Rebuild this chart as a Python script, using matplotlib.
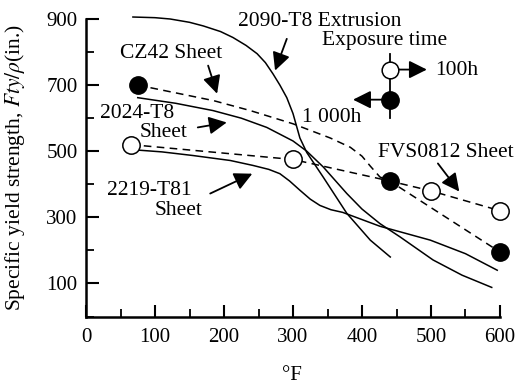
import matplotlib
matplotlib.use("Agg")
import matplotlib.pyplot as plt
from matplotlib.ticker import MultipleLocator

plt.rcParams['font.family'] = ['Liberation Serif', 'DejaVu Serif']
plt.rcParams['mathtext.fontset'] = 'stix'

# ---- data ----
x_2090 = [68, 100, 122, 150, 170, 195, 213, 232, 248, 260, 271, 281, 291, 300, 310, 320, 344, 378, 412, 441]
y_2090 = [906, 904, 900, 890, 879, 862, 844, 820, 795, 768, 734, 700, 662, 614, 540, 496, 421, 312, 231, 180]

x_2024 = [75, 130, 184, 225, 262, 300, 320, 344, 378, 400, 426, 455, 503, 545, 588]
y_2024 = [662, 645, 623, 600, 572, 531, 500, 452, 372, 325, 281, 241, 171, 125, 88]

x_2219 = [65, 110, 155, 209, 242, 265, 281, 295, 310, 325, 339, 355, 372, 426, 499, 550, 596]
y_2219 = [505, 498, 487, 472, 457, 445, 432, 410, 382, 355, 336, 323, 315, 273, 231, 190, 140]

x_cz42 = [75, 185, 238, 300, 354, 383, 400, 412, 426, 440, 600]
y_cz42 = [700, 653, 623, 583, 540, 512, 485, 455, 422, 410, 195]

x_fvs = [65, 300, 440, 500, 600]
y_fvs = [520, 475, 410, 380, 320]

x_filled = [75, 440, 600]
y_filled = [700, 410, 195]
x_open = [65, 300, 500, 600]
y_open = [520, 475, 380, 320]

xticks_major = [0, 100, 200, 300, 400, 500, 600]
yticks_major = [100, 300, 500, 700, 900]

fig = plt.figure(figsize=(5.26, 3.88), dpi=100)
ax = fig.add_axes([86/526, 1-316.5/388, 414/526, (316.5-19)/388])

lw = 1.1
ax.plot(x_2090, y_2090, color='black', lw=lw, clip_on=False)
ax.plot(x_2024, y_2024, color='black', lw=lw, clip_on=False)
ax.plot(x_2219, y_2219, color='black', lw=lw, clip_on=False)
ax.plot(x_cz42, y_cz42, color='black', lw=lw, ls=(0, (5, 3.5)), clip_on=False)
ax.plot(x_fvs, y_fvs, color='black', lw=lw, ls=(0, (5, 3.5)), clip_on=False)
ax.plot(x_filled, y_filled, 'o', ms=12.5, mfc='black', mec='black', clip_on=False, zorder=5)
ax.plot(x_open, y_open, 'o', ms=12.5, mfc='white', mec='black', mew=1.1, clip_on=False, zorder=5)

# exposure time key
ax.plot([441, 441], [795, 602], color='black', lw=1.3, clip_on=False)
ax.plot([441], [747], 'o', ms=12, mfc='white', mec='black', mew=1.1, clip_on=False, zorder=6)
ax.plot([441], [656], 'o', ms=12.5, mfc='black', mec='black', clip_on=False, zorder=6)

ap = dict(arrowstyle='-|>,head_length=0.9,head_width=0.45', color='black', lw=1.3,
          mutation_scale=12, shrinkA=0, shrinkB=0)
arrows = [((291, 840), (274, 744)),
          ((177, 759), (190, 674)),
          ((162, 572), (204, 587)),
          ((180, 372), (241, 432)),
          ((510, 463), (541, 378)),
          ((452, 747), (494, 747)),
          ((429, 656), (387, 656))]
for (x0, y0), (x1, y1) in arrows:
    ax.annotate('', xy=(x1, y1), xytext=(x0, y0), arrowprops=ap, annotation_clip=False)

fs = 15.5
texts = [(220, 891, "2090-T8 Extrusion"),
         (342, 834, "Exposure time"),
         (506, 744, "100h"),
         (313, 602, "1 000h"),
         (423, 496, "FVS0812 Sheet"),
         (49, 795, "CZ42 Sheet"),
         (20, 614, "2024-T8"),
         (78, 557, "Sheet"),
         (30, 382, "2219-T81"),
         (100, 322, "Sheet")]
for x, y, s in texts:
    ax.text(x, y, s, fontsize=fs, ha='left', va='center', clip_on=False)

ax.set_xlim(0, 600)
ax.set_ylim(0, 900)
ax.set_xticks(xticks_major)
ax.set_yticks(yticks_major)
ax.xaxis.set_minor_locator(MultipleLocator(50))
ax.yaxis.set_minor_locator(MultipleLocator(100))
for s in ['top', 'right']:
    ax.spines[s].set_visible(False)
for s in ['left', 'bottom']:
    ax.spines[s].set_linewidth(1.8)
ax.tick_params(which='major', direction='in', length=9, width=1.5, labelsize=15, pad=6)
ax.tick_params(which='minor', direction='in', length=6, width=1.3)
ax.tick_params(axis='x', which='major', pad=8)

fig.text(15/526, 1-167/388, r"Specific yield strength, $Fty/\rho$(in.)", rotation=90,
         fontsize=15.5, ha='center', va='center')
fig.text(292/526, 1-375/388, "°F", fontsize=15, ha='center', va='center')

fig.savefig("out.png", dpi=100)
